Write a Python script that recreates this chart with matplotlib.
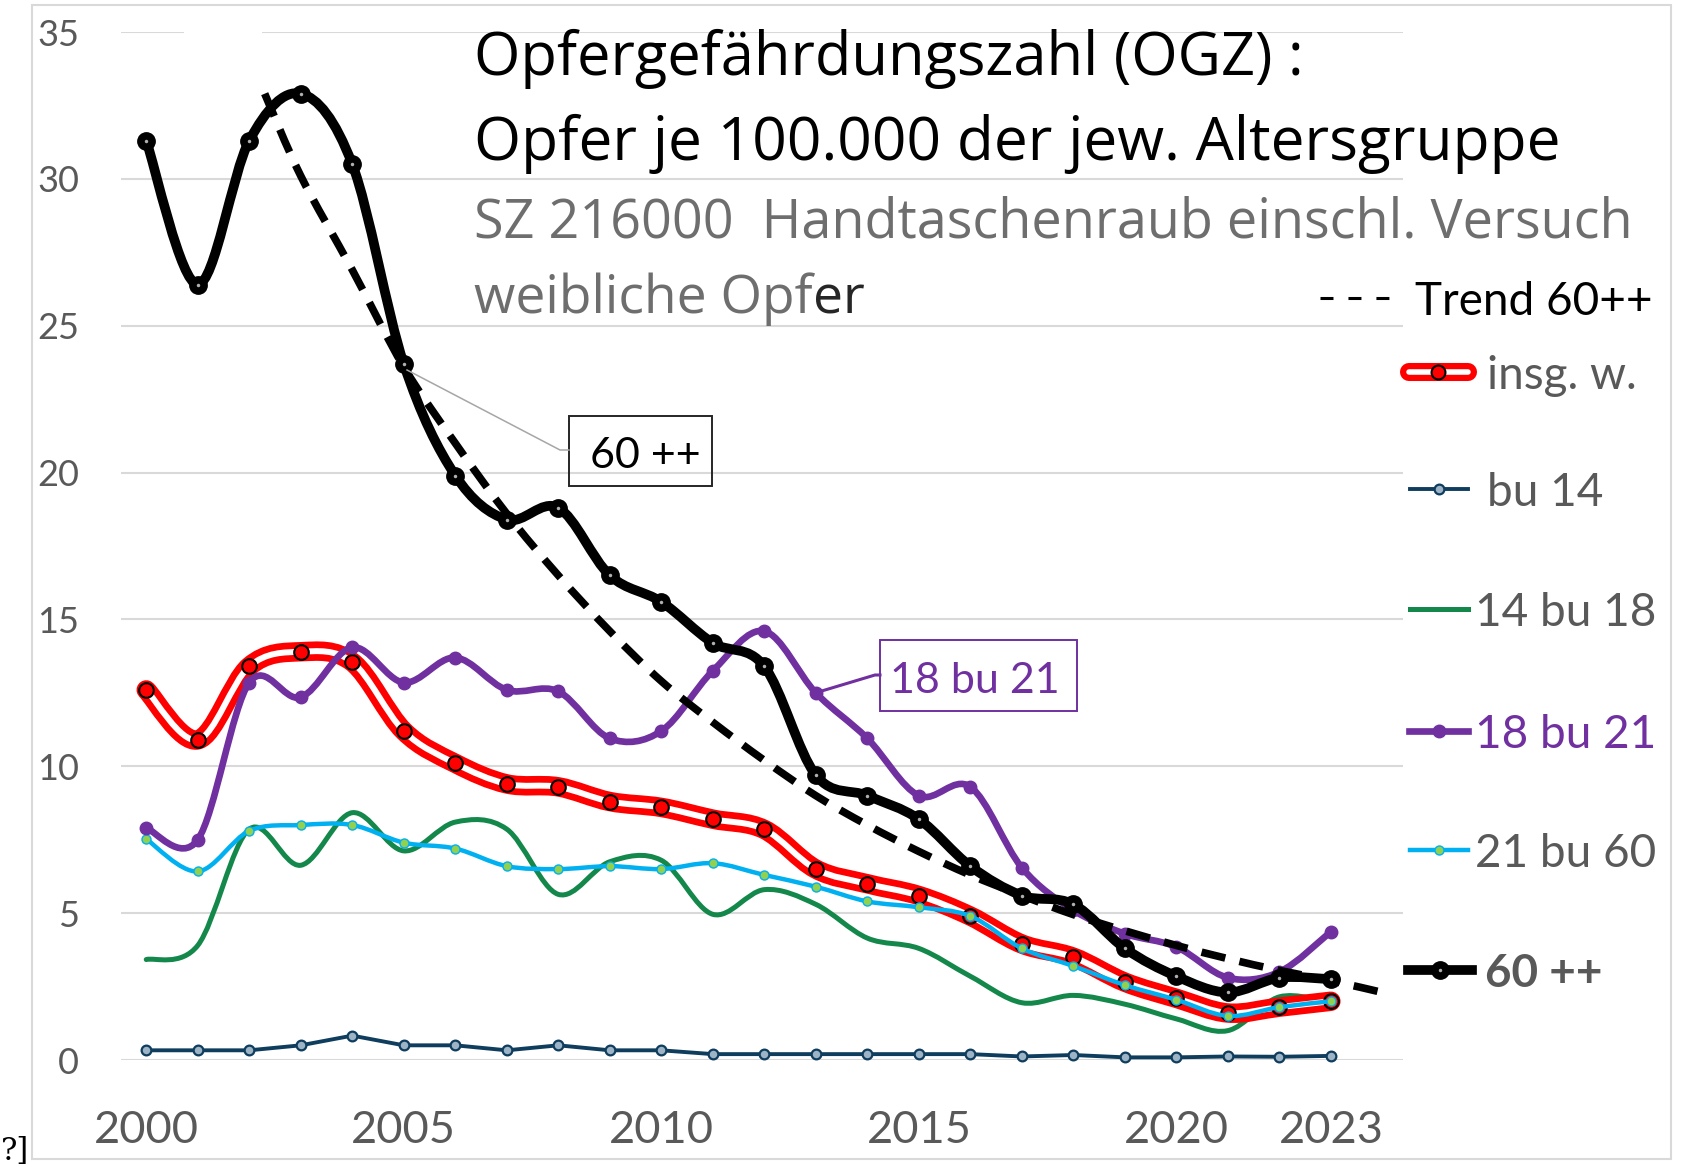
import numpy as np
import matplotlib
matplotlib.use("Agg")   # non-interactive backend
import matplotlib.pyplot as plt
from matplotlib.lines import Line2D
from matplotlib.patches import Rectangle, PathPatch
from matplotlib.path import Path

plt.rcParams["font.family"] = ["Lato", "DejaVu Sans"]

# ---- data ----
years = list(range(2000, 2024))

insg_w = [12.6, 10.9, 13.4, 13.9, 13.55, 11.2, 10.1, 9.4, 9.3, 8.8, 8.6, 8.2,
          7.85, 6.5, 6.0, 5.6, 4.9, 3.95, 3.5, 2.65, 2.1, 1.6, 1.8, 2.0]
bu_14 = [0.33, 0.33, 0.33, 0.5, 0.83, 0.5, 0.5, 0.33, 0.5, 0.33, 0.33, 0.2,
         0.2, 0.2, 0.2, 0.2, 0.2, 0.12, 0.17, 0.09, 0.09, 0.12, 0.11, 0.14]
bu_14_18 = [3.42, 3.9, 7.86, 6.63, 8.42, 7.12, 8.1, 7.86, 5.64, 6.75, 6.8, 4.96,
            5.8, 5.3, 4.15, 3.8, 2.85, 1.95, 2.2, 1.9, 1.4, 1.0, 2.15, 1.95]
bu_18_21 = [7.9, 7.5, 12.85, 12.35, 14.05, 12.85, 13.7, 12.6, 12.55, 10.95, 11.2, 13.25,
            14.6, 12.5, 10.95, 9.0, 9.3, 6.55, 5.1, 4.3, 3.85, 2.8, 3.0, 4.37]
bu_21_60 = [7.52, 6.42, 7.8, 8.0, 8.0, 7.4, 7.2, 6.6, 6.5, 6.6, 6.5, 6.7,
            6.3, 5.9, 5.4, 5.2, 4.9, 3.8, 3.2, 2.55, 2.05, 1.5, 1.8, 2.0]
ab_60 = [31.3, 26.4, 31.3, 32.9, 30.5, 23.7, 19.9, 18.4, 18.8, 16.5, 15.6, 14.2,
         13.4, 9.7, 9.0, 8.2, 6.6, 5.6, 5.3, 3.8, 2.85, 2.3, 2.8, 2.75]

trend_years = [2002.3] + list(range(2003, 2024)) + [2024.0]
trend_60 = [32.9, 30.1, 26.9, 23.6, 21.0, 18.6, 16.5, 14.6, 12.9, 11.5, 10.2, 9.0,
            8.0, 7.1, 6.3, 5.6, 4.95, 4.4, 3.9, 3.45, 3.05, 2.7, 2.3]

xticks = [2000, 2005, 2010, 2015, 2020, 2023]
yticks = [0, 5, 10, 15, 20, 25, 30, 35]

RED, NAVY, GREEN, PURPLE, CYAN, LIME = "#FF0000", "#0F3D5E", "#13884A", "#7030A0", "#00B0F0", "#92D050"
GREY_TXT = "#595959"
TITLE_FONT = ["Open Sans", "DejaVu Sans"]

W, H = 1684, 1167
fig = plt.figure(figsize=(W / 100, H / 100), dpi=100)


def fx(px):
    return px / W


def fy(py):
    return 1 - py / H


ax = fig.add_axes([fx(121), fy(1060), fx(1403) - fx(121), fy(32) - fy(1060)])


def smooth_path(xs, ys):
    # Excel-style smoothed line: cubic bezier segments through the points
    p = np.column_stack([xs, ys]).astype(float)
    n = len(p)
    verts, codes = [p[0]], [Path.MOVETO]
    for i in range(n - 1):
        p0 = p[i - 1] if i > 0 else p[i]
        p3 = p[i + 2] if i + 2 < n else p[i + 1]
        verts += [p[i] + (p[i + 1] - p0) / 6, p[i + 1] - (p3 - p[i]) / 6, p[i + 1]]
        codes += [Path.CURVE4] * 3
    return Path(verts, codes)


def curve(xs, ys, **kw):
    ax.add_patch(PathPatch(smooth_path(xs, ys), fill=False, transform=ax.transData,
                           joinstyle="round", capstyle="round", clip_on=False, **kw))


# bu 14
ax.plot(years, bu_14, color=NAVY, lw=2.8, marker="o", ms=7, mfc="#9DB3C6", mec=NAVY,
        mew=1.6, zorder=3, clip_on=False)
# 14 bu 18
curve(years, bu_14_18, color=GREEN, lw=3.6, zorder=4)
# insg. w.
curve(years, insg_w, color=RED, lw=14, zorder=5)
curve(years, insg_w, color="white", lw=4.3, zorder=5.1)
ax.plot(years, insg_w, ls="none", marker="o", ms=10.5, mfc=RED, mec="black", mew=1.5,
        zorder=5.2, clip_on=False)
# 21 bu 60
curve(years, bu_21_60, color=CYAN, lw=3.2, zorder=6)
ax.plot(years, bu_21_60, ls="none", marker="o", ms=6.5, mfc=LIME, mec=CYAN, mew=1,
        zorder=6.1, clip_on=False)
# 18 bu 21
curve(years, bu_18_21, color=PURPLE, lw=4.8, zorder=7)
ax.plot(years, bu_18_21, ls="none", marker="o", ms=9, mfc=PURPLE, mec=PURPLE,
        zorder=7.1, clip_on=False)
# Trend 60++
ax.add_patch(PathPatch(smooth_path(trend_years, trend_60), fill=False, transform=ax.transData,
                       color="black", lw=5.5, linestyle=(0, (3.2, 1.9)), capstyle="butt",
                       zorder=8, clip_on=False))
# 60 ++
curve(years, ab_60, color="black", lw=7, zorder=9)
ax.plot(years, ab_60, ls="none", marker="o", ms=12.5, mfc="black", mec="black",
        zorder=9.1, clip_on=False)
ax.plot(years, ab_60, ls="none", marker="o", ms=2.5, mfc="#B0B0B0", mec="none",
        zorder=9.2, clip_on=False)

ax.set_xlim(1999.51, 2024.4)
ax.set_ylim(0, 35)
ax.set_xticks(xticks)
ax.set_yticks(yticks)
ax.grid(axis="y", color="#D9D9D9", lw=1.5)
ax.set_axisbelow(True)
for s in ax.spines.values():
    s.set_visible(False)
ax.tick_params(axis="y", length=0, labelsize=26, labelcolor=GREY_TXT, pad=30)
ax.tick_params(axis="x", length=0, labelsize=32.5, labelcolor=GREY_TXT, pad=36)

# ---- title block, each line fitted to the width it has in the original ----
renderer = fig.canvas.get_renderer()


def fitted_text(y, s, width_px, **kw):
    t = fig.text(fx(474), fy(y), s, fontsize=40, family=TITLE_FONT, va="baseline", **kw)
    w = t.get_window_extent(renderer).width
    t.set_fontsize(40 * width_px / w)
    return t


fitted_text(75, "Opfergefährdungszahl (OGZ) :", 828)
fitted_text(160, "Opfer je 100.000 der jew. Altersgruppe", 1086)
fitted_text(238, "SZ 216000  Handtaschenraub einschl. Versuch", 1155, color="#6E6E6E")
t4 = fitted_text(313, "weibliche Opf", 338, color="#6E6E6E")
ax.annotate("er", xy=(1, 0), xycoords=t4, va="bottom", ha="left", fontsize=t4.get_fontsize(),
            family=TITLE_FONT, color="#262626", annotation_clip=False)


# ---- legend ----
def handle(x0, x1, y, **kw):
    fig.add_artist(Line2D([fx(x0), fx(x1)], [fy(y), fy(y)], transform=fig.transFigure, **kw))


def marker(x, y, **kw):
    fig.add_artist(Line2D([fx(x)], [fy(y)], transform=fig.transFigure, ls="none",
                          marker="o", **kw))


handle(1320, 1390, 298, color="black", lw=2.2, linestyle=(0, (4.25, 4.9)))
fig.text(fx(1415), fy(315), "Trend 60++", fontsize=33, va="baseline")

handle(1409, 1468, 372, color=RED, lw=13, solid_capstyle="round")
handle(1409, 1468, 372, color="white", lw=4, solid_capstyle="round")
marker(1438, 372, ms=10, mfc=RED, mec="black", mew=1.5)
fig.text(fx(1487), fy(389), "insg. w.", fontsize=33, color=GREY_TXT, va="baseline")

handle(1410, 1468, 489, color=NAVY, lw=2.8)
marker(1439, 489, ms=7, mfc="#9DB3C6", mec=NAVY, mew=1.6)
fig.text(fx(1487), fy(506), "bu 14", fontsize=33, color=GREY_TXT, va="baseline")

handle(1410, 1468, 609, color=GREEN, lw=3.6)
fig.text(fx(1475), fy(626), "14 bu 18", fontsize=33, color=GREY_TXT, va="baseline")

handle(1409, 1468, 731, color=PURPLE, lw=4.8)
marker(1439, 731, ms=9, mfc=PURPLE, mec=PURPLE)
fig.text(fx(1475), fy(748), "18 bu 21", fontsize=33, color=PURPLE, va="baseline")

handle(1410, 1468, 850, color=CYAN, lw=3.2)
marker(1439, 850, ms=6.5, mfc=LIME, mec=CYAN, mew=1)
fig.text(fx(1475), fy(867), "21 bu 60", fontsize=33, color=GREY_TXT, va="baseline")

handle(1408, 1472, 970, color="black", lw=7)
marker(1440, 970, ms=12.5, mfc="black", mec="black")
marker(1440, 970, ms=2.5, mfc="#B0B0B0", mec="none")
fig.text(fx(1485), fy(987), "60 ++", fontsize=33, color=GREY_TXT, fontweight="bold",
         va="baseline")

# ---- data labels with leader lines ----
fig.add_artist(Line2D([fx(407), fx(560), fx(569)], [fy(370), fy(450), fy(450)],
                      transform=fig.transFigure, color="#A6A6A6", lw=1.1))
fig.add_artist(Rectangle((fx(569), fy(486)), fx(712) - fx(569), fy(416) - fy(486),
                         transform=fig.transFigure, fill=False, ec="#262626", lw=1.4))
fig.text(fx(590), fy(468), "60 ++", fontsize=31, va="baseline")

fig.add_artist(Line2D([fx(815), fx(875), fx(880)], [fy(693), fy(675), fy(675)],
                      transform=fig.transFigure, color=PURPLE, lw=2.2))
fig.add_artist(Rectangle((fx(880), fy(711)), fx(1077) - fx(880), fy(640) - fy(711),
                         transform=fig.transFigure, fill=False, ec=PURPLE, lw=1.4))
fig.text(fx(890), fy(693), "18 bu 21", fontsize=31, color=PURPLE, va="baseline")

# white gap in the top gridline, outer frame, footnote mark
fig.add_artist(Rectangle((fx(184), fy(40)), fx(262) - fx(184), fy(24) - fy(40),
                         transform=fig.transFigure, fc="white", ec="none", zorder=1))
fig.add_artist(Rectangle((fx(32), fy(1159)), fx(1671) - fx(32), fy(5) - fy(1159),
                         transform=fig.transFigure, fill=False, ec="#D9D9D9", lw=1.5))
fig.text(fx(1), fy(1160), "?]", fontsize=22, family="DejaVu Serif", va="baseline")

fig.savefig("out.png", dpi=100)
plt.close(fig)
